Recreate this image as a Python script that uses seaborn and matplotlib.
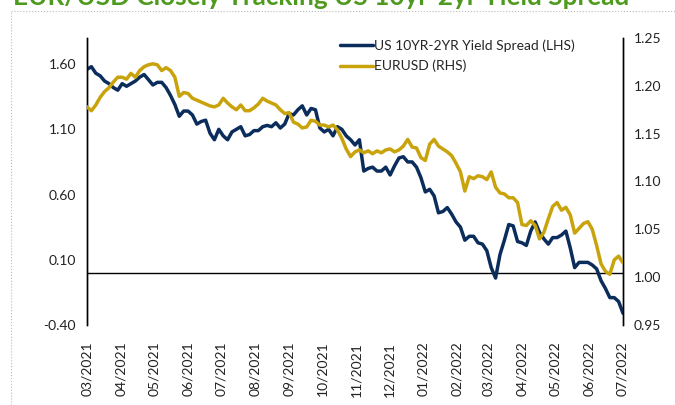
import pandas as pd
import matplotlib
matplotlib.use("Agg")
import matplotlib.pyplot as plt
import matplotlib.dates as mdates
import matplotlib.ticker as mticker
from matplotlib.lines import Line2D
import seaborn as sns

# sample dates (every 4 days, Mar 2021 - Jul 2022)
dates = pd.date_range("2021-03-01", periods=123, freq="4D")

# US 10yr-2yr yield spread (LHS)
spread = [
    1.56, 1.58, 1.53, 1.51, 1.47, 1.45, 1.42, 1.40, 1.45, 1.43,
    1.45, 1.47, 1.50, 1.52, 1.48, 1.44, 1.46, 1.46, 1.42, 1.36,
    1.29, 1.20, 1.24, 1.24, 1.21, 1.14, 1.16, 1.17, 1.07, 1.02,
    1.10, 1.05, 1.02, 1.08, 1.10, 1.12, 1.05, 1.06, 1.09, 1.09,
    1.12, 1.13, 1.12, 1.15, 1.11, 1.14, 1.22, 1.21, 1.25, 1.28,
    1.21, 1.26, 1.25, 1.11, 1.08, 1.10, 1.05, 1.12, 1.10, 1.05,
    1.02, 0.98, 1.02, 0.78, 0.80, 0.81, 0.78, 0.78, 0.81, 0.75,
    0.82, 0.88, 0.89, 0.85, 0.85, 0.81, 0.73, 0.62, 0.64, 0.59,
    0.46, 0.47, 0.50, 0.45, 0.39, 0.35, 0.25, 0.28, 0.28, 0.23,
    0.22, 0.17, 0.04, -0.04, 0.14, 0.25, 0.37, 0.36, 0.24, 0.23,
    0.21, 0.32, 0.39, 0.31, 0.26, 0.22, 0.27, 0.27, 0.29, 0.32,
    0.19, 0.04, 0.08, 0.08, 0.08, 0.06, 0.03, -0.06, -0.12, -0.19,
    -0.19, -0.22, -0.31,
]

# EURUSD (RHS)
eurusd = [
    1.178, 1.174, 1.180, 1.188, 1.194, 1.198, 1.204, 1.209, 1.209, 1.207,
    1.213, 1.209, 1.216, 1.220, 1.222, 1.223, 1.222, 1.216, 1.219, 1.216,
    1.209, 1.189, 1.193, 1.192, 1.187, 1.185, 1.183, 1.181, 1.179, 1.178,
    1.180, 1.187, 1.182, 1.178, 1.175, 1.180, 1.174, 1.174, 1.177, 1.181,
    1.187, 1.184, 1.182, 1.180, 1.175, 1.171, 1.172, 1.162, 1.160, 1.156,
    1.157, 1.164, 1.163, 1.159, 1.159, 1.157, 1.159, 1.154, 1.145, 1.134,
    1.126, 1.131, 1.133, 1.130, 1.132, 1.129, 1.132, 1.130, 1.133, 1.134,
    1.131, 1.133, 1.137, 1.144, 1.136, 1.135, 1.125, 1.122, 1.139, 1.144,
    1.137, 1.134, 1.131, 1.127, 1.119, 1.110, 1.090, 1.105, 1.103, 1.106,
    1.105, 1.102, 1.110, 1.094, 1.088, 1.087, 1.083, 1.083, 1.078, 1.055,
    1.054, 1.059, 1.054, 1.040, 1.047, 1.061, 1.074, 1.078, 1.070, 1.073,
    1.065, 1.046, 1.051, 1.056, 1.058, 1.050, 1.033, 1.014, 1.006, 1.003,
    1.018, 1.022, 1.015,
]

left_ticks = [-0.40, 0.10, 0.60, 1.10, 1.60]
right_ticks = [0.95, 1.00, 1.05, 1.10, 1.15, 1.20, 1.25]

navy = "#0b2d5c"
gold = "#c9a30c"
font = "Lato"

df = pd.DataFrame({"date": dates, "spread": spread, "eurusd": eurusd})

sns.set_style("white")
plt.rcParams["font.family"] = [font, "DejaVu Sans"]

fig = plt.figure(figsize=(6.75, 4.05), dpi=100)
ax = fig.add_axes([87/675, 1 - 325/405, (623 - 87)/675, (325 - 38)/405])
ax2 = ax.twinx()

ax.axhline(0, color="black", lw=1.0, zorder=1)
sns.lineplot(data=df, x="date", y="spread", ax=ax, color=navy, lw=2.5, zorder=3)
sns.lineplot(data=df, x="date", y="eurusd", ax=ax2, color=gold, lw=2.5, zorder=3)

ax.set_xlim(pd.Timestamp("2021-03-01"), pd.Timestamp("2022-07-02"))
ax.set_ylim(-0.40, 1.80)
ax2.set_ylim(0.95, 1.25)
ax.set_yticks(left_ticks)
ax2.set_yticks(right_ticks)
ax.yaxis.set_major_formatter(mticker.FormatStrFormatter("%.2f"))
ax2.yaxis.set_major_formatter(mticker.FormatStrFormatter("%.2f"))

ax.xaxis.set_major_locator(mdates.MonthLocator())
ax.xaxis.set_major_formatter(mdates.DateFormatter("%m/%Y"))
for lab in ax.get_xticklabels():
    lab.set_rotation(90)

ax.set_xlabel("")
ax.set_ylabel("")
ax2.set_ylabel("")
ax.tick_params(axis="both", length=0, labelsize=10, colors="#222222", pad=8)
ax.tick_params(axis="x", pad=12)
ax2.tick_params(axis="y", length=0, labelsize=10, colors="#222222", pad=8)

for a in (ax, ax2):
    a.spines["top"].set_visible(False)
    a.spines["bottom"].set_visible(False)
    a.spines["left"].set_color("black")
    a.spines["right"].set_color("black")
    a.spines["left"].set_linewidth(1.0)
    a.spines["right"].set_linewidth(1.0)
    a.grid(False)

handles = [Line2D([], [], color=navy, lw=2.5), Line2D([], [], color=gold, lw=2.5)]
ax2.legend(handles, ["US 10YR-2YR Yield Spread (LHS)", "EURUSD (RHS)"],
           loc="upper left", bbox_to_anchor=(0.448, 1.04), frameon=False,
           fontsize=10, handlelength=2.4, handletextpad=0.1, labelspacing=0.6)

# partially cut-off title and dotted frame
fig.text(13/675, 1 - 5/405, "EUR/USD Closely Tracking US 10yr-2yr Yield Spread",
         color="#4e9a1e", fontsize=18.8, fontweight="bold", va="baseline", ha="left")
fig.add_artist(Line2D([11/675, 1], [1 - 11/405, 1 - 11/405], color="#bbbbbb", lw=0.8, ls=":"))
fig.add_artist(Line2D([11/675, 11/675], [0, 1 - 11/405], color="#bbbbbb", lw=0.8, ls=":"))

fig.savefig("out.png", dpi=100)
